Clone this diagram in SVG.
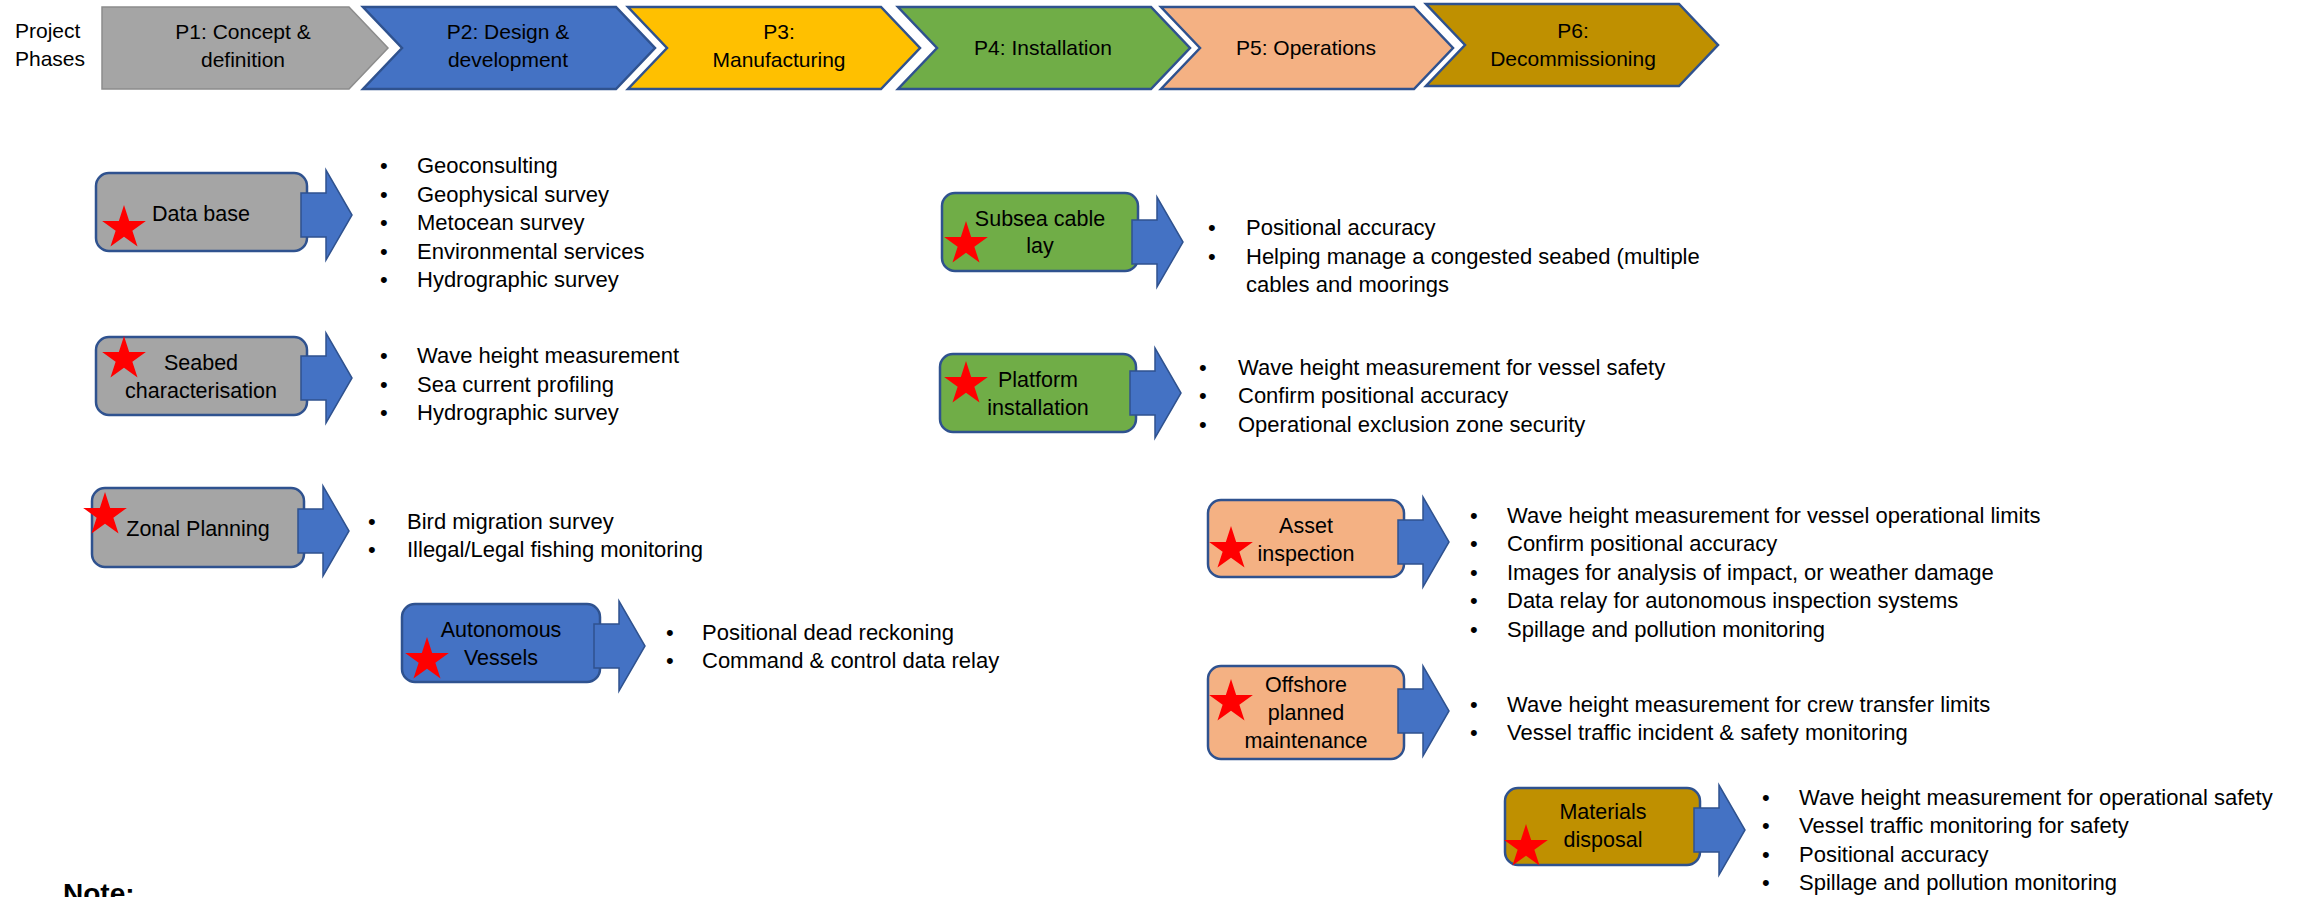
<svg xmlns="http://www.w3.org/2000/svg" xmlns:xlink="http://www.w3.org/1999/xlink" width="2311" height="897" viewBox="0 0 2311 897">
<style>
.t{font-family:"Liberation Sans",Arial,sans-serif;fill:#000}
.ph{font-size:21px;text-anchor:middle}
.lb{font-size:21.5px;text-anchor:middle}
.bl{font-size:22px}
.box{stroke:#2F528F;stroke-width:2.5}
.chev{stroke:#2F528F;stroke-width:2.5;stroke-linejoin:miter}
.arr{fill:#4472C4;stroke:#2F528F;stroke-width:1.5}
.star{fill:#FF0000}
.g{fill:#A5A5A5}.b{fill:#4472C4}.y{fill:#FFC000}.gr{fill:#70AD47}.o{fill:#F4B183}.gd{fill:#BF9000}
</style>
<defs>
<path id="star" d="M0,-23 L5.17,-7.11 L21.87,-7.11 L8.36,2.72 L13.52,18.61 L0,8.79 L-13.52,18.61 L-8.36,2.72 L-21.87,-7.11 L-5.17,-7.11 Z"/>
</defs>
<rect width="2311" height="897" fill="#fff"/>

<g id="header">
<text class="t" x="15" y="38" font-size="21">Project</text>
<text class="t" x="15" y="66" font-size="21">Phases</text>
</g>

<g id="phase-p1">
<polygon class="g" stroke="#8C8C8C" stroke-width="1.5" points="102,7 349,7 388,48 349,89 102,89"/>
<text class="t ph" x="243" y="39">P1: Concept &amp;</text>
<text class="t ph" x="243" y="67">definition</text>
</g>
<g id="phase-p2">
<polygon class="chev b" points="363,7 616,7 655,48 616,89 363,89 402,48"/>
<text class="t ph" x="508" y="39">P2: Design &amp;</text>
<text class="t ph" x="508" y="67">development</text>
</g>
<g id="phase-p3">
<polygon class="chev y" points="628,7 881,7 920,48 881,89 628,89 667,48"/>
<text class="t ph" x="779" y="39">P3:</text>
<text class="t ph" x="779" y="67">Manufacturing</text>
</g>
<g id="phase-p4">
<polygon class="chev gr" points="898,7 1151,7 1190,48 1151,89 898,89 937,48"/>
<text class="t ph" x="1043" y="55">P4: Installation</text>
</g>
<g id="phase-p5">
<polygon class="chev o" points="1161,7 1414,7 1453,48 1414,89 1161,89 1200,48"/>
<text class="t ph" x="1306" y="55">P5: Operations</text>
</g>
<g id="phase-p6">
<polygon class="chev gd" points="1426,4 1679,4 1718,45 1679,86 1426,86 1465,45"/>
<text class="t ph" x="1573" y="38">P6:</text>
<text class="t ph" x="1573" y="66">Decommissioning</text>
</g>

<g id="node-database">
<rect class="box g" x="96" y="173" width="211" height="78" rx="13"/>
<use href="#star" class="star" x="124" y="228"/>
<text class="t lb" x="201" y="221">Data base</text>
</g>
<g id="node-seabed">
<rect class="box g" x="96" y="337" width="211" height="78" rx="13"/>
<use href="#star" class="star" x="124" y="359"/>
<text class="t lb" x="201" y="370">Seabed</text>
<text class="t lb" x="201" y="398">characterisation</text>
</g>
<g id="node-zonal">
<rect class="box g" x="92" y="488" width="212" height="79" rx="13"/>
<use href="#star" class="star" x="105" y="515"/>
<text class="t lb" x="198" y="536">Zonal Planning</text>
</g>
<g id="node-autonomous">
<rect class="box b" x="402" y="604" width="198" height="78" rx="13"/>
<use href="#star" class="star" x="427" y="660"/>
<text class="t lb" x="501" y="637">Autonomous</text>
<text class="t lb" x="501" y="665">Vessels</text>
</g>
<g id="node-subsea">
<rect class="box gr" x="942" y="193" width="196" height="78" rx="13"/>
<use href="#star" class="star" x="966" y="244"/>
<text class="t lb" x="1040" y="226">Subsea cable</text>
<text class="t lb" x="1040" y="253">lay</text>
</g>
<g id="node-platform">
<rect class="box gr" x="940" y="354" width="196" height="78" rx="13"/>
<use href="#star" class="star" x="966" y="384"/>
<text class="t lb" x="1038" y="387">Platform</text>
<text class="t lb" x="1038" y="415">installation</text>
</g>
<g id="node-asset">
<rect class="box o" x="1208" y="500" width="196" height="77" rx="13"/>
<use href="#star" class="star" x="1231" y="549"/>
<text class="t lb" x="1306" y="533">Asset</text>
<text class="t lb" x="1306" y="561">inspection</text>
</g>
<g id="node-offshore">
<rect class="box o" x="1208" y="666" width="196" height="93" rx="13"/>
<use href="#star" class="star" x="1231" y="702"/>
<text class="t lb" x="1306" y="692">Offshore</text>
<text class="t lb" x="1306" y="720">planned</text>
<text class="t lb" x="1306" y="748">maintenance</text>
</g>
<g id="node-materials">
<rect class="box gd" x="1505" y="788" width="195" height="77" rx="13"/>
<use href="#star" class="star" x="1526" y="847"/>
<text class="t lb" x="1603" y="819">Materials</text>
<text class="t lb" x="1603" y="847">disposal</text>
</g>

<g id="connectors">
<path class="arr" d="M301,193 H326 V170 L352,215 L326,260 V237 H301 Z"/>
<path class="arr" d="M301,356 H326 V333 L352,378 L326,423 V400 H301 Z"/>
<path class="arr" d="M298,509 H323 V486 L349,531 L323,576 V553 H298 Z"/>
<path class="arr" d="M594,624 H619 V601 L645,646 L619,691 V668 H594 Z"/>
<path class="arr" d="M1132,220 H1157 V197 L1183,242 L1157,287 V264 H1132 Z"/>
<path class="arr" d="M1130,371 H1155 V348 L1181,393 L1155,438 V415 H1130 Z"/>
<path class="arr" d="M1398,520 H1423 V497 L1449,542 L1423,587 V564 H1398 Z"/>
<path class="arr" d="M1398,689 H1423 V666 L1449,711 L1423,756 V733 H1398 Z"/>
<path class="arr" d="M1694,808 H1719 V785 L1745,830 L1719,875 V852 H1694 Z"/>
</g>

<g id="list-database" class="t bl">
<text x="380" y="173">•</text><text x="417" y="173">Geoconsulting</text>
<text x="380" y="201.5">•</text><text x="417" y="201.5">Geophysical survey</text>
<text x="380" y="230">•</text><text x="417" y="230">Metocean survey</text>
<text x="380" y="258.5">•</text><text x="417" y="258.5">Environmental services</text>
<text x="380" y="287">•</text><text x="417" y="287">Hydrographic survey</text>
</g>
<g id="list-seabed" class="t bl">
<text x="380" y="363">•</text><text x="417" y="363">Wave height measurement</text>
<text x="380" y="391.5">•</text><text x="417" y="391.5">Sea current profiling</text>
<text x="380" y="420">•</text><text x="417" y="420">Hydrographic survey</text>
</g>
<g id="list-zonal" class="t bl">
<text x="368" y="529">•</text><text x="407" y="529">Bird migration survey</text>
<text x="368" y="557">•</text><text x="407" y="557">Illegal/Legal fishing monitoring</text>
</g>
<g id="list-autonomous" class="t bl">
<text x="666" y="640">•</text><text x="702" y="640">Positional dead reckoning</text>
<text x="666" y="668">•</text><text x="702" y="668">Command &amp; control data relay</text>
</g>
<g id="list-subsea" class="t bl">
<text x="1208" y="235">•</text><text x="1246" y="235">Positional accuracy</text>
<text x="1208" y="264">•</text><text x="1246" y="264">Helping manage a congested seabed (multiple</text>
<text x="1246" y="292">cables and moorings</text>
</g>
<g id="list-platform" class="t bl">
<text x="1199" y="375">•</text><text x="1238" y="375">Wave height measurement for vessel safety</text>
<text x="1199" y="403">•</text><text x="1238" y="403">Confirm positional accuracy</text>
<text x="1199" y="432">•</text><text x="1238" y="432">Operational exclusion zone security</text>
</g>
<g id="list-asset" class="t bl">
<text x="1470" y="523">•</text><text x="1507" y="523">Wave height measurement for vessel operational limits</text>
<text x="1470" y="551">•</text><text x="1507" y="551">Confirm positional accuracy</text>
<text x="1470" y="580">•</text><text x="1507" y="580">Images for analysis of impact, or weather damage</text>
<text x="1470" y="608">•</text><text x="1507" y="608">Data relay for autonomous inspection systems</text>
<text x="1470" y="637">•</text><text x="1507" y="637">Spillage and pollution monitoring</text>
</g>
<g id="list-offshore" class="t bl">
<text x="1470" y="712">•</text><text x="1507" y="712">Wave height measurement for crew transfer limits</text>
<text x="1470" y="740">•</text><text x="1507" y="740">Vessel traffic incident &amp; safety monitoring</text>
</g>
<g id="list-materials" class="t bl">
<text x="1762" y="805">•</text><text x="1799" y="805">Wave height measurement for operational safety</text>
<text x="1762" y="833">•</text><text x="1799" y="833">Vessel traffic monitoring for safety</text>
<text x="1762" y="862">•</text><text x="1799" y="862">Positional accuracy</text>
<text x="1762" y="890">•</text><text x="1799" y="890">Spillage and pollution monitoring</text>
</g>

<g id="note">
<text class="t" x="63" y="903" font-size="28" font-weight="bold">Note:</text>
</g>
</svg>
